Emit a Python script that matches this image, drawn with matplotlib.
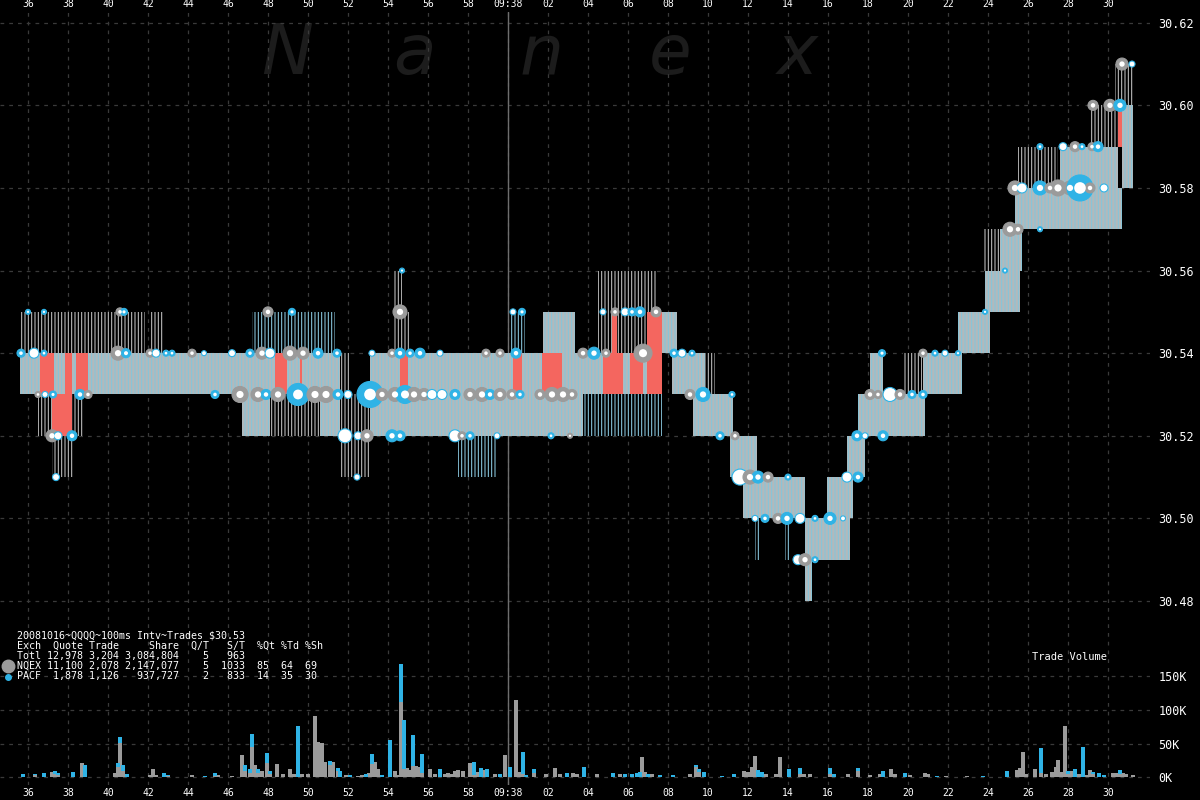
import numpy as np
import matplotlib.pyplot as plt
from matplotlib.lines import Line2D

plt.rcParams['font.family'] = ['DejaVu Sans Mono', 'DejaVu Sans']
plt.rcParams['hatch.linewidth'] = 0.75

# times are seconds after 09:37:00, prices in $
# quote bands (bid/ask range)
band_t0 = [35.6, 46.7, 50.6, 53.1, 53.1, 61.75, 67.7, 68.2, 69.25, 71.1, 71.75, 74.85,
           75.0, 75.95, 76.95, 77.5, 78.1, 80.75, 82.5, 83.85, 84.6, 85.35, 87.6, 90.7]
band_t1 = [51.6, 48.1, 51.6, 67.7, 63.75, 63.35, 68.45, 69.85, 71.25, 72.45, 74.85, 75.2,
           77.1, 77.25, 77.85, 80.85, 78.75, 82.7, 84.1, 85.6, 85.7, 90.7, 90.5, 91.25]
band_lo = [30.53, 30.52, 30.52, 30.53, 30.52, 30.54, 30.54, 30.53, 30.52, 30.51, 30.50, 30.48,
           30.49, 30.50, 30.51, 30.52, 30.53, 30.53, 30.54, 30.55, 30.56, 30.57, 30.58, 30.58]
band_hi = [30.54, 30.53, 30.53, 30.54, 30.53, 30.55, 30.55, 30.54, 30.53, 30.52, 30.51, 30.50,
           30.50, 30.51, 30.52, 30.53, 30.54, 30.54, 30.55, 30.56, 30.57, 30.58, 30.59, 30.60]

# sparse quotes outside the band
wick_t0 = [35.6, 42.1, 36.5, 37.2, 47.2, 48.1, 51.6, 54.25, 54.25, 57.5, 60.1, 64.5,
           64.5, 63.75, 69.45, 72.35, 73.85, 79.75, 83.75, 85.5, 88.55, 89.1, 90.35, 51.6]
wick_t1 = [41.85, 42.8, 38.75, 38.25, 51.35, 50.6, 53.1, 54.7, 55.1, 59.45, 60.85, 67.45,
           66.95, 67.7, 70.35, 72.6, 74.1, 80.7, 84.6, 87.5, 88.65, 90.5, 91.25, 52.1]
wick_lo = [30.54, 30.54, 30.52, 30.51, 30.54, 30.52, 30.51, 30.55, 30.54, 30.51, 30.54, 30.55,
           30.54, 30.52, 30.53, 30.49, 30.49, 30.53, 30.56, 30.58, 30.59, 30.59, 30.60, 30.53]
wick_hi = [30.55, 30.55, 30.53, 30.52, 30.55, 30.53, 30.53, 30.56, 30.55, 30.52, 30.55, 30.56,
           30.55, 30.53, 30.54, 30.50, 30.50, 30.54, 30.57, 30.59, 30.60, 30.60, 30.61, 30.54]
wick_ex = ['N', 'N', 'N', 'N', 'P', 'N', 'N', 'N', 'N', 'P', 'P', 'N',
           'N', 'P', 'N', 'P', 'P', 'N', 'N', 'N', 'P', 'N', 'N', 'N']

# crossed / locked periods
red_t0 = [36.6, 37.2, 37.85, 38.4, 48.35, 49.6, 54.6, 60.25, 61.7, 64.75, 65.2, 66.1, 66.95, 90.5]
red_t1 = [37.3, 38.2, 38.2, 39.0, 48.95, 49.7, 55.0, 60.7, 62.7, 65.75, 65.45, 66.75, 67.7, 90.7]
red_lo = [30.53, 30.52, 30.53, 30.53, 30.53, 30.53, 30.53, 30.53, 30.53, 30.53, 30.54, 30.53, 30.53, 30.59]
red_hi = [30.54, 30.53, 30.54, 30.54, 30.54, 30.54, 30.54, 30.54, 30.54, 30.54, 30.55, 30.54, 30.55, 30.60]

# trades: time, price, exchange (N=NQEX, P=PACF, W=small print), dot diameter px
trade_t = [35.65, 36.3, 36.8, 36.0, 36.8, 40.6, 40.8, 40.5, 40.9, 42.1, 42.4, 42.9, 43.2, 44.2, 44.8, 46.2, 47.1, 47.7, 48.1, 49.1, 49.75, 50.5, 51.45, 48.0, 49.2,
           36.5, 36.85, 37.25, 38.6, 39.0, 37.2, 37.5, 38.2, 37.4,
           45.35, 46.6, 47.5, 47.9, 48.5, 49.5, 50.35, 50.9, 51.5, 52.0, 51.85, 52.5, 52.95, 52.45,
           53.1, 53.7, 54.35, 54.85, 55.3, 55.8, 56.2, 56.7, 57.35, 58.1, 58.7, 59.1, 59.6, 60.2, 60.6, 61.6, 62.2, 62.75, 63.2,
           53.2, 54.2, 54.6, 55.1, 55.6, 56.6, 58.9, 59.6, 60.4, 54.6, 54.7, 60.25, 60.7,
           54.2, 54.6, 57.35, 57.7, 58.1, 59.45, 62.15, 63.1,
           63.75, 64.3, 64.9, 64.75, 65.35, 65.85, 66.2, 66.6, 67.4, 66.75,
           68.3, 68.7, 69.2, 69.1, 69.75, 71.2, 70.6, 71.35,
           71.6, 72.1, 72.5, 73.0, 74.0,
           72.35, 72.85, 73.5, 73.95, 74.6, 75.35, 76.1, 76.75, 74.5, 74.85, 75.35,
           76.95, 77.5, 77.45, 77.85, 78.75, 78.1, 78.5, 79.1, 79.6, 80.2, 80.75, 78.7, 80.75, 81.35, 81.85, 82.5,
           83.85, 84.85, 85.1, 85.5, 86.6, 85.35, 85.7, 86.6, 87.1, 87.5, 88.1, 88.6, 89.1, 89.8,
           86.6, 87.75, 88.35, 88.7, 89.2, 89.5, 89.25, 90.1, 90.6, 90.7, 91.2]
trade_px = [30.54, 30.54, 30.54, 30.55, 30.55, 30.55, 30.55, 30.54, 30.54, 30.54, 30.54, 30.54, 30.54, 30.54, 30.54, 30.54, 30.54, 30.54, 30.54, 30.54, 30.54, 30.54, 30.54, 30.55, 30.55,
            30.53, 30.53, 30.53, 30.53, 30.53, 30.52, 30.52, 30.52, 30.51,
            30.53, 30.53, 30.53, 30.53, 30.53, 30.53, 30.53, 30.53, 30.53, 30.53, 30.52, 30.52, 30.52, 30.51,
            30.53, 30.53, 30.53, 30.53, 30.53, 30.53, 30.53, 30.53, 30.53, 30.53, 30.53, 30.53, 30.53, 30.53, 30.53, 30.53, 30.53, 30.53, 30.53,
            30.54, 30.54, 30.54, 30.54, 30.54, 30.54, 30.54, 30.54, 30.54, 30.55, 30.56, 30.55, 30.55,
            30.52, 30.52, 30.52, 30.52, 30.52, 30.52, 30.52, 30.52,
            30.54, 30.54, 30.54, 30.55, 30.55, 30.55, 30.55, 30.55, 30.55, 30.54,
            30.54, 30.54, 30.54, 30.53, 30.53, 30.53, 30.52, 30.52,
            30.51, 30.51, 30.51, 30.51, 30.51,
            30.50, 30.50, 30.50, 30.50, 30.50, 30.50, 30.50, 30.50, 30.49, 30.49, 30.49,
            30.51, 30.51, 30.52, 30.52, 30.52, 30.53, 30.53, 30.53, 30.53, 30.53, 30.53, 30.54, 30.54, 30.54, 30.54, 30.54,
            30.55, 30.56, 30.57, 30.57, 30.57, 30.58, 30.58, 30.58, 30.58, 30.58, 30.58, 30.58, 30.58, 30.58,
            30.59, 30.59, 30.59, 30.59, 30.59, 30.59, 30.60, 30.60, 30.60, 30.61, 30.61]
trade_ex = list('PWPPPNPNPNWPPNWWPNWNNPPNP'
                'NWPPNNWPW'
                'PNNPNPNNPWWWNW'
                'PNNPNNWWPNNPNNPNNNN'
                'WNPPPWNNPNPWP'
                'PPWNPWPN'
                'NPNWNWPPNN'
                'PWPNPPPN'
                'WNPNP'
                'WPNPWPPWWNP'
                'WPPWPNNWNPPPNPWP'
                'PPNNPNWPNNNPNW'
                'PWNPNPNNPNW')
trade_d = [8, 10, 6, 5, 5, 8, 7, 14, 9, 8, 8, 6, 6, 8, 5, 7, 8, 12, 10, 14, 12, 10, 8, 10, 7,
           6, 6, 7, 10, 8, 12, 8, 10, 7,
           8, 16, 14, 10, 14, 22, 16, 16, 10, 8, 14, 8, 12, 6,
           26, 12, 14, 18, 14, 12, 10, 10, 10, 12, 14, 10, 12, 10, 8, 10, 14, 14, 10,
           6, 8, 10, 8, 10, 6, 8, 8, 10, 14, 5, 6, 7,
           12, 10, 12, 8, 8, 6, 6, 5,
           10, 12, 8, 6, 8, 8, 8, 10, 10, 18,
           8, 8, 6, 10, 14, 6, 8, 8,
           16, 14, 12, 10, 6,
           6, 8, 10, 12, 10, 6, 12, 5, 10, 12, 6,
           10, 10, 10, 6, 10, 10, 8, 14, 10, 8, 8, 7, 8, 6, 6, 5,
           5, 5, 14, 10, 5, 14, 10, 14, 10, 16, 14, 26, 10, 8,
           6, 8, 10, 6, 8, 10, 10, 12, 12, 12, 6]

# trade volume per 100ms interval, thousands of shares
vol_t = [35.75, 36.35, 36.8, 37.2, 37.35, 37.5, 38.25, 38.7, 38.85, 40.35,
         40.5, 40.6, 40.75, 40.95, 42.1, 42.25, 42.4, 42.8, 43.0, 44.2,
         44.85, 45.35, 45.5, 46.2, 46.7, 46.85, 47.1, 47.2, 47.35, 47.5,
         47.7, 47.95, 48.1, 48.45, 48.75, 49.1, 49.3, 49.5, 49.7, 50.0,
         50.35, 50.5, 50.7, 50.85, 51.1, 51.25, 51.5, 51.6, 51.9, 52.1,
         52.5, 52.7, 52.9, 53.05, 53.2, 53.35, 53.5, 53.7, 54.1, 54.35,
         54.5, 54.65, 54.8, 54.95, 55.1, 55.25, 55.4, 55.55, 55.7, 56.1,
         56.35, 56.6, 56.85, 57.0, 57.2, 57.35, 57.5, 57.75, 58.1, 58.3,
         58.45, 58.65, 58.8, 58.95, 59.35, 59.6, 59.85, 60.1, 60.4, 60.55,
         60.75, 60.9, 61.3, 61.9, 62.35, 62.6, 62.95, 63.25, 63.45, 63.8,
         64.45, 65.25, 65.6, 65.85, 66.2, 66.45, 66.6, 66.7, 66.85, 67.0,
         67.2, 67.6, 68.25, 69.1, 69.4, 69.55, 69.8, 70.7, 71.3, 71.8,
         72.0, 72.2, 72.35, 72.5, 72.7, 72.9, 73.4, 73.6, 74.05, 74.6,
         74.8, 75.1, 76.1, 76.3, 77.0, 77.5, 78.1, 78.6, 78.75, 79.15,
         79.35, 79.85, 80.1, 80.85, 81.0, 81.45, 81.9, 82.95, 83.75, 84.95,
         85.45, 85.6, 85.75, 85.9, 86.35, 86.65, 86.9, 87.2, 87.3, 87.4,
         87.5, 87.65, 87.85, 88.0, 88.15, 88.35, 88.5, 88.65, 88.75, 88.9,
         89.1, 89.25, 89.55, 89.8, 90.25, 90.4, 90.6, 90.75, 90.9, 91.25]
vol_nqex = [0, 3, 0, 7.5, 4.5, 3, 0, 21, 0, 6,
            15, 51, 9, 0, 3, 12, 3, 0, 1.5, 3,
            0, 1.5, 3, 1.5, 33, 9, 6, 45, 18, 6,
            9, 21, 4.5, 19.5, 4.5, 12, 4.5, 0, 4.5, 4.5,
            91.5, 52.5, 51, 22.5, 18, 22.5, 9, 0, 3, 0,
            1.5, 3, 0, 6, 19.5, 22.5, 12, 0, 0, 9,
            3, 112.5, 12, 13.5, 10.5, 16.5, 16.5, 15, 6, 12,
            4.5, 0, 4.5, 6, 4.5, 9, 10.5, 9, 21, 3,
            7.5, 0, 10.5, 0, 4.5, 0, 33, 0, 115.5, 7.5,
            4.5, 0, 6, 4.5, 13.5, 4.5, 0, 6, 4.5, 0,
            4.5, 0, 4.5, 0, 0, 0, 0, 30, 7.5, 0,
            4.5, 0, 0, 4.5, 15, 7.5, 0, 0, 0, 9,
            7.5, 15, 31.5, 0, 0, 4.5, 4.5, 30, 0, 4.5,
            4.5, 4.5, 4.5, 0, 4.5, 9, 3, 4.5, 0, 12,
            4.5, 0, 3, 6, 4.5, 0, 1.5, 1.5, 0, 0,
            10.5, 13.5, 37.5, 4.5, 12, 6, 4.5, 7.5, 6, 15,
            25.5, 7.5, 76.5, 4.5, 9, 0, 4.5, 4.5, 0, 3,
            10.5, 4.5, 0, 0, 6, 6, 4.5, 6, 4.5, 3]
vol_pacf = [4.5, 1.5, 6, 0, 4.5, 3, 7.5, 0, 18, 0,
            6, 9, 9, 4.5, 0, 0, 0, 6, 1.5, 0,
            1.5, 4.5, 0, 0, 0, 9, 6, 19.5, 0, 6,
            0, 15, 4.5, 0, 0, 0, 0, 76.5, 0, 0,
            0, 0, 0, 0, 6, 0, 4.5, 9, 0, 3,
            0, 0, 4.5, 0, 15, 0, 0, 3, 55.5, 0,
            0, 55.5, 73.5, 0, 0, 46.5, 0, 0, 28.5, 0,
            0, 12, 0, 0, 0, 0, 0, 0, 0, 19.5,
            0, 13.5, 0, 12, 0, 4.5, 0, 15, 0, 0,
            33, 3, 6, 0, 0, 0, 6, 0, 0, 15,
            0, 6, 0, 4.5, 4.5, 6, 7.5, 0, 0, 4.5,
            0, 3, 3, 0, 3, 4.5, 7.5, 1.5, 4.5, 0,
            0, 0, 0, 10.5, 7.5, 0, 0, 0, 12, 9,
            0, 0, 9, 4.5, 0, 4.5, 0, 0, 9, 0,
            0, 6, 0, 0, 0, 1.5, 0, 0, 1.5, 9,
            0, 0, 0, 0, 0, 37.5, 0, 0, 0, 0,
            0, 0, 0, 4.5, 0, 12, 0, 0, 45, 0,
            0, 3, 6, 3, 0, 0, 6, 0, 0, 0]

stats_lines = ['20081016~QQQQ~100ms Intv~Trades $30.53',
               'Exch  Quote Trade     Share  Q/T   S/T  %Qt %Td %Sh',
               'Totl 12,978 3,204 3,084,804    5   963',
               'NQEX 11,100 2,078 2,147,077    5  1033  85  64  69',
               'PACF  1,878 1,126   937,727    2   833  14  35  30']

GRAY = '#9b9b9b'
BLUE = '#2fb3e6'
RED = '#f4665f'

fig = plt.figure(figsize=(12, 8), dpi=100, facecolor='black')
ax = fig.add_axes([0, 180 / 800, 1150 / 1200, 608 / 800])
axv = fig.add_axes([0, 15 / 800, 1150 / 1200, 165 / 800])

for a in (ax, axv):
    a.set_facecolor('black')
    for s in a.spines.values():
        s.set_visible(False)
    a.set_xlim(34.6, 92.1)
    a.set_xticks(np.arange(36, 91, 2))
    a.set_xticklabels(['09:38' if t == 60 else '%02d' % (t % 60) for t in range(36, 91, 2)])
    a.grid(True, color='#3a3a3a', linestyle=(0, (3, 4)), linewidth=0.9)
    a.set_axisbelow(True)
    a.axvline(60, color='#6e6e6e', linewidth=1, zorder=0.7)

# watermark
for xp, ch in zip([287, 414, 542, 670, 797], 'Nanex'):
    ax.text(xp / 1200, 1 - 74 / 800, ch, transform=fig.transFigure, ha='center', va='baseline',
            fontsize=50, style='italic', family='DejaVu Sans', color='#1c1c1c', zorder=0.2)

# price panel
ax.set_ylim(30.4754, 30.6226)
yt = np.arange(30.48, 30.621, 0.02)
ax.set_yticks(yt)
ax.set_yticklabels(['%.2f' % v for v in yt])
ax.tick_params(axis='y', left=False, right=True, labelleft=False, labelright=True,
               length=0, pad=6, labelsize=8.5, colors='white')
ax.tick_params(axis='x', top=True, bottom=False, labeltop=True, labelbottom=False,
               length=0, pad=2, labelsize=7, colors='white')

wick_cols = ['#8ccbe2' if e == 'P' else '#c4c4c4' for e in wick_ex]
ax.bar(x=wick_t0, height=np.subtract(wick_hi, wick_lo), width=np.subtract(wick_t1, wick_t0),
       bottom=wick_lo, align='edge', color='black', edgecolor=wick_cols, hatch='|||||',
       linewidth=0, zorder=1)
ax.bar(x=band_t0, height=np.subtract(band_hi, band_lo), width=np.subtract(band_t1, band_t0),
       bottom=band_lo, align='edge', color='#b3b9bb', edgecolor='#84c6dc', hatch='|||||',
       linewidth=0, zorder=2)
ax.bar(x=red_t0, height=np.subtract(red_hi, red_lo), width=np.subtract(red_t1, red_t0),
       bottom=red_lo, align='edge', color=RED, linewidth=0, zorder=3)

tcol = {'N': GRAY, 'P': BLUE, 'W': 'white'}
tedge = {'N': GRAY, 'P': BLUE, 'W': BLUE}
ssize = (np.array(trade_d) * 0.72) ** 2
ax.scatter(trade_t, trade_px, s=ssize, c=[tcol[e] for e in trade_ex],
           edgecolors=[tedge[e] for e in trade_ex], linewidths=0.8, zorder=5)
inner = np.array([e != 'W' for e in trade_ex])
ax.scatter(np.array(trade_t)[inner], np.array(trade_px)[inner], s=ssize[inner] * 0.2,
           c='white', linewidths=0, zorder=6)

# volume panel
axv.set_ylim(-11.9, 234.3)
axv.set_yticks([0, 50, 100, 150])
axv.set_yticklabels(['0K', '50K', '100K', '150K'])
axv.tick_params(axis='y', left=False, right=True, labelleft=False, labelright=True,
                length=0, pad=6, labelsize=8.5, colors='white')
axv.tick_params(axis='x', length=0, pad=2, labelsize=7, colors='white')
axv.bar(vol_t, vol_nqex, width=0.16, color=GRAY, linewidth=0, zorder=2)
axv.bar(vol_t, vol_pacf, width=0.16, bottom=vol_nqex, color=BLUE, linewidth=0, zorder=2)

fig.text(1032 / 1200, 1 - 657 / 800, 'Trade Volume', color='white', fontsize=7.5, va='center')

for i, line in enumerate(stats_lines):
    fig.text(17 / 1200, 1 - (636 + 10 * i) / 800, line, color='white', fontsize=7.2, va='center')
fig.add_artist(Line2D([8 / 1200], [1 - 666 / 800], marker='o', markersize=9, color=GRAY,
                      transform=fig.transFigure))
fig.add_artist(Line2D([8 / 1200], [1 - 677 / 800], marker='o', markersize=4, color=BLUE,
                      transform=fig.transFigure))

fig.savefig('out.png', dpi=100, facecolor='black')
